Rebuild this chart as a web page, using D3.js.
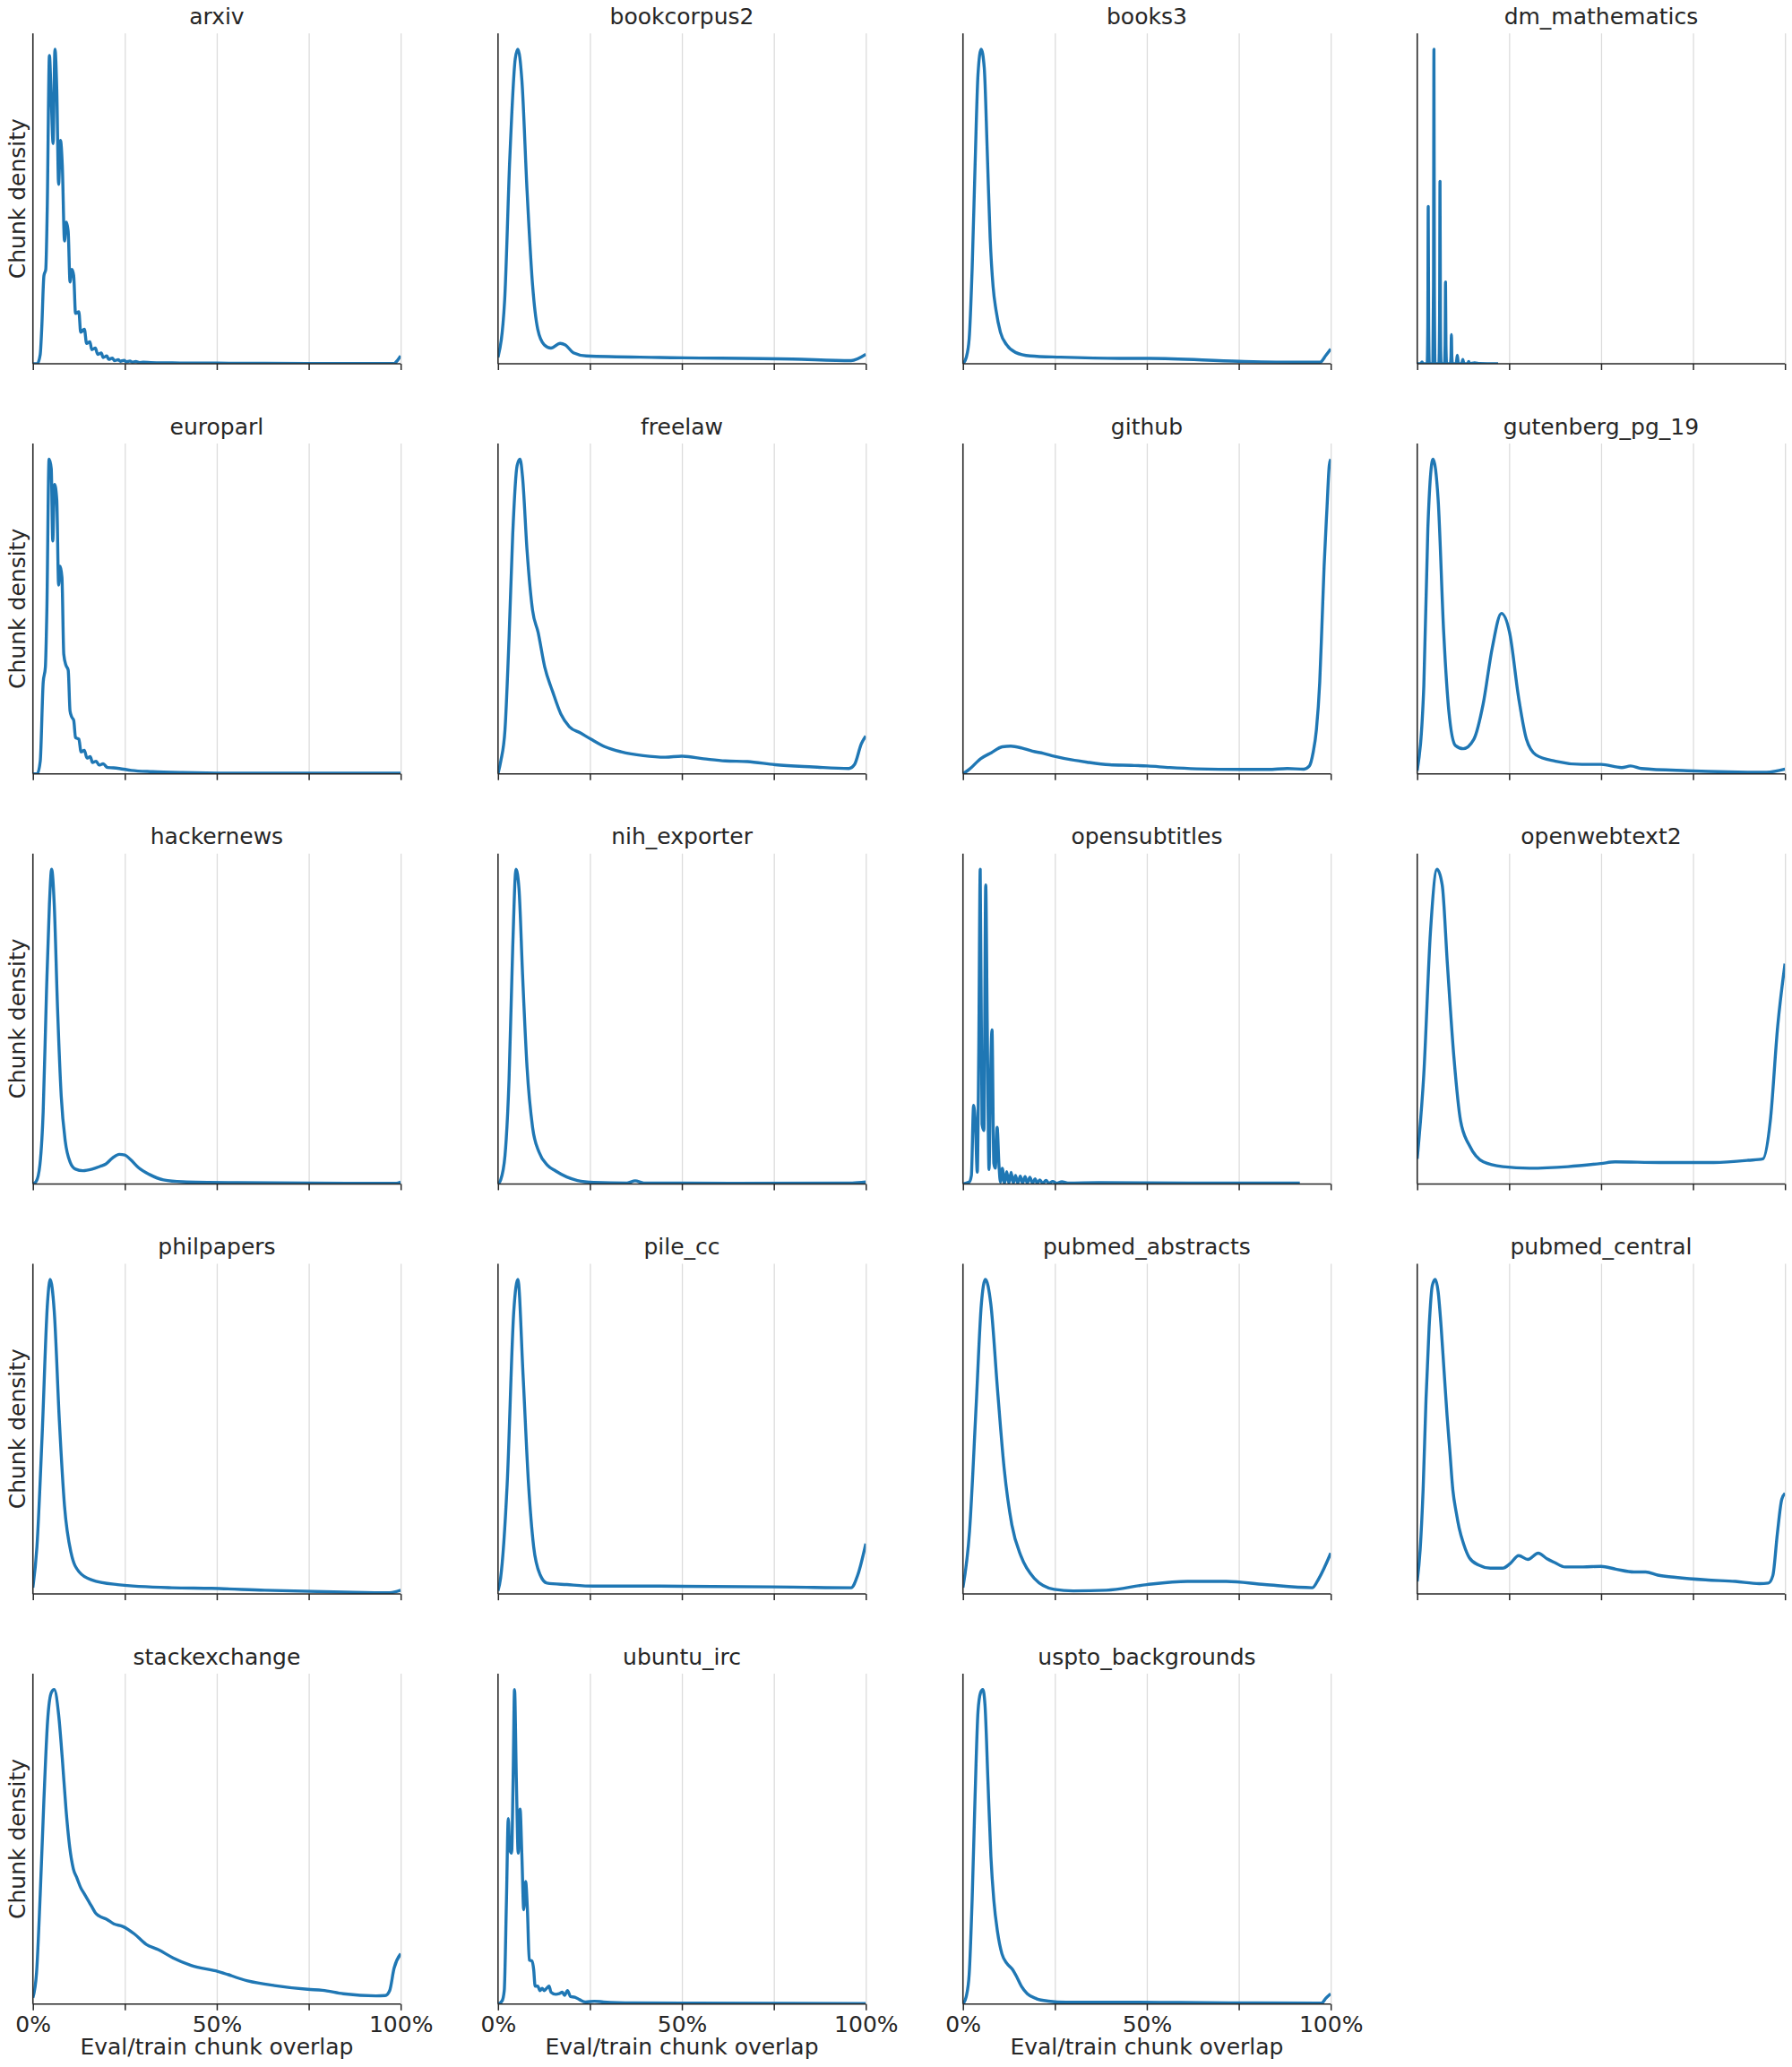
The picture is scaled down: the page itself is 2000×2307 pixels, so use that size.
<!DOCTYPE html>
<html>
<head>
<meta charset="utf-8">
<script src="https://cdn.jsdelivr.net/npm/d3@7"></script>
<style>
  html, body { margin: 0; padding: 0; background: #ffffff; }
  svg { display: block; }
  text { font-family: "DejaVu Sans", sans-serif; fill: #262626; }
</style>
</head>
<body>
<svg id="chart" width="2000" height="2307"></svg>
<script>
// ---------------- data (x = overlap %, y = relative chunk density) ----------------
const datasetNames = ["arxiv","bookcorpus2","books3","dm_mathematics","europarl","freelaw","github",
  "gutenberg_pg_19","hackernews","nih_exporter","opensubtitles","openwebtext2","philpapers","pile_cc",
  "pubmed_abstracts","pubmed_central","stackexchange","ubuntu_irc","uspto_backgrounds"];

const tickValues = [0, 25, 50, 75, 100];
const tickLabels = ["0%", "", "50%", "", "100%"];
const xLabel = "Eval/train chunk overlap";
const yLabel = "Chunk density";

const arxiv = [[0,0],[1.2,0],[2.0,0.03],[2.4,0.11],[3.0,0.28],[3.5,0.30],[3.9,0.49],[4.5,0.98],[5.0,0.84],[5.5,0.70],
  [6.0,1.0],[6.5,0.87],[7.0,0.57],[7.5,0.71],[8.0,0.63],[8.6,0.39],[9.1,0.45],[9.6,0.42],[10.1,0.26],[10.6,0.30],
  [11.1,0.28],[11.6,0.16],[12.5,0.165],[13.0,0.10],[14.0,0.11],[14.6,0.065],[15.5,0.07],[16.0,0.045],[17.0,0.05],
  [17.6,0.03],[18.6,0.034],[19.1,0.02],[20.1,0.025],[20.6,0.014],[21.6,0.018],[22.2,0.01],[23.2,0.013],[23.8,0.008],
  [24.8,0.011],[25.4,0.006],[26.4,0.009],[27,0.005],[28,0.007],[29,0.004],[30,0.005],[32,0.004],[35,0.003],
  [40,0.0025],[50,0.002],[60,0.0015],[75,0.001],[90,0.001],[98.2,0.001],[99.2,0.012],[100,0.025]];

const bookcorpus2 = [[0,0.02],[1.8,0.2],[3.2,0.65],[4.7,0.97],[5.4,1.0],[6.5,0.9],[7.9,0.55],[9.4,0.25],[10.8,0.11],
  [12.6,0.06],[14.4,0.05],[16.9,0.065],[18.3,0.06],[20.5,0.035],[24,0.025],[44,0.02],[80,0.015],[96,0.01],[100,0.03]];

const books3 = [[0,0],[0.9,0.02],[1.7,0.08],[2.5,0.30],[3.3,0.63],[4.1,0.92],[4.95,1.0],[5.8,0.94],[6.6,0.68],
  [7.4,0.40],[8.2,0.245],[9.0,0.17],[10.2,0.10],[11.9,0.06],[14.3,0.036],[18.3,0.025],[26.5,0.021],[42.7,0.017],
  [50.8,0.017],[75,0.008],[91.4,0.005],[97.1,0.005],[98.7,0.027],[100,0.047]];

const dm_mathematics = [[0,0],[1.0,0],[1.3,0.006],[1.6,0],[2.7,0],[2.88,0.12],[3.0,0.50],[3.12,0.12],[3.3,0],
  [4.25,0],[4.43,0.25],[4.55,1.0],[4.67,0.25],[4.85,0],[5.9,0],[6.08,0.14],[6.2,0.58],[6.32,0.14],[6.5,0],
  [7.4,0],[7.58,0.06],[7.7,0.26],[7.82,0.06],[8.0,0],[9.0,0],[9.18,0.023],[9.3,0.093],[9.42,0.023],[9.6,0],
  [10.6,0],[10.9,0.027],[11.2,0],[12.1,0],[12.4,0.014],[12.7,0],[13.7,0],[14.0,0.007],[14.3,0],[15.6,0.003],
  [17,0.001],[22,0]];

const europarl = [[0,0],[1.2,0],[2.0,0.04],[2.8,0.29],[3.4,0.34],[3.8,0.52],[4.4,1.0],[5.0,0.97],[5.4,0.74],
  [5.9,0.92],[6.5,0.87],[7.0,0.60],[7.4,0.66],[7.9,0.625],[8.4,0.38],[9.0,0.345],[9.6,0.33],[10.1,0.20],[10.6,0.18],
  [11.1,0.17],[11.6,0.115],[12.5,0.11],[13.1,0.07],[14.0,0.075],[14.7,0.05],[15.6,0.055],[16.2,0.036],[17.2,0.04],
  [18.0,0.028],[19.1,0.032],[20.3,0.02],[21.9,0.019],[23.5,0.017],[26.8,0.011],[32.5,0.007],[40.6,0.004],
  [52.8,0.002],[100,0.002]];

const freelaw = [[0,0],[0.75,0.04],[1.9,0.14],[3.0,0.43],[4.0,0.76],[5.2,0.98],[6.0,1.0],[6.7,0.94],[7.9,0.71],
  [9.4,0.52],[10.9,0.45],[12.7,0.34],[14.9,0.26],[17.1,0.19],[19.4,0.15],[22.4,0.13],[25.3,0.11],[29.1,0.086],
  [33.5,0.07],[39.5,0.058],[45.5,0.053],[49.9,0.056],[55.9,0.048],[61.8,0.041],[67.8,0.039],[75.3,0.029],
  [85.7,0.022],[95.4,0.017],[96.9,0.029],[98.8,0.096],[100,0.12]];

const github = [[0,0],[1.8,0.015],[4.8,0.048],[7.7,0.067],[10.7,0.086],[13.0,0.088],[16.0,0.082],[18.9,0.072],
  [21.9,0.065],[24.9,0.056],[29.4,0.045],[33.8,0.037],[39.8,0.029],[45.8,0.027],[50.2,0.025],[56.2,0.020],
  [63.6,0.016],[75.6,0.014],[83.0,0.014],[88.2,0.017],[92.7,0.015],[94.2,0.025],[95.2,0.067],[96.1,0.14],
  [97.0,0.29],[97.6,0.47],[98.2,0.66],[99.0,0.85],[99.6,0.98],[100,1.0]];

const gutenberg_pg_19 = [[0,0.01],[1.8,0.28],[2.9,0.78],[4.3,1.0],[5.7,0.87],[7.2,0.45],[8.6,0.2],[10.4,0.09],
  [12.5,0.08],[15.4,0.11],[17.9,0.22],[20.4,0.40],[22.9,0.51],[25.1,0.45],[27.6,0.24],[29.7,0.11],[32.3,0.06],
  [37.6,0.04],[44.8,0.03],[50,0.03],[55.6,0.02],[58,0.025],[61,0.017],[73.5,0.01],[95,0.005],[100,0.015]];

const hackernews = [[0,0],[0.9,0.008],[1.9,0.06],[2.8,0.23],[3.7,0.61],[4.5,0.89],[5.1,1.0],[5.8,0.89],[6.7,0.56],
  [7.7,0.28],[8.8,0.136],[10.1,0.07],[11.6,0.047],[13.6,0.042],[16.1,0.047],[18.3,0.056],[19.8,0.063],[21.6,0.082],
  [23.5,0.094],[25.0,0.092],[26.5,0.078],[28.8,0.051],[31.7,0.030],[35.5,0.013],[40.7,0.007],[55.6,0.004],
  [85.4,0.002],[98.8,0.002],[100,0.006]];

const nih_exporter = [[0,0],[0.7,0.012],[1.9,0.09],[3.0,0.33],[4.0,0.75],[4.9,1.0],[5.7,0.94],[6.7,0.66],[7.9,0.37],
  [9.4,0.18],[11.2,0.10],[13.4,0.06],[15.7,0.041],[18.7,0.022],[21.6,0.011],[26.1,0.005],[35.1,0.003],[37.3,0.01],
  [39.6,0.003],[63.4,0.002],[96.3,0.003],[100,0.006]];

const opensubtitles = [[0,0],[1.7,0.006],[2.3,0.027],[2.9,0.25],[3.4,0.19],[3.9,0.037],[4.3,0.42],[4.7,1.0],
  [5.2,0.19],[5.7,0.17],[6.2,0.95],[6.6,0.52],[7.1,0.046],[7.5,0.33],[7.9,0.49],[8.4,0.065],[8.8,0.05],[9.3,0.18],
  [9.8,0.06],[10.2,0.006],[10.7,0.05],[11.3,0.002],[11.9,0.039],[12.5,0.002],[13.1,0.037],[13.7,0.002],[14.3,0.027],
  [14.9,0.002],[15.6,0.025],[16.2,0.002],[16.9,0.023],[17.5,0.002],[18.2,0.021],[18.9,0.002],[19.6,0.016],
  [20.2,0.002],[20.9,0.013],[21.7,0.002],[22.6,0.011],[23.4,0.002],[24.4,0.008],[25.5,0.002],[26.9,0.007],
  [28.5,0.003],[37,0.004],[61.4,0.003],[91.6,0.003]];

const openwebtext2 = [[0,0.08],[1.8,0.35],[3.6,0.8],[5.4,1.0],[6.8,0.95],[8.2,0.7],[10,0.4],[11.8,0.2],[14.3,0.12],
  [18,0.07],[23.3,0.055],[30.5,0.05],[41,0.055],[50,0.065],[53.8,0.07],[66,0.068],[80.6,0.068],[90,0.075],
  [94,0.08],[96,0.2],[98,0.5],[100,0.7]];

const philpapers = [[0,0.02],[1.1,0.15],[2.5,0.5],[4,0.93],[4.7,1.0],[5.8,0.9],[7.2,0.55],[8.6,0.28],[10.4,0.13],
  [12.6,0.07],[16,0.045],[23,0.03],[37.8,0.02],[48.6,0.018],[63,0.012],[84.5,0.006],[97,0.004],[100,0.012]];

const pile_cc = [[0,0.01],[0.7,0.05],[2.5,0.35],[4.3,0.9],[5.4,1.0],[6.8,0.7],[8.3,0.35],[9.7,0.15],[11.5,0.06],
  [13.3,0.035],[18.7,0.03],[26,0.025],[44,0.025],[80,0.022],[96,0.02],[97.8,0.06],[100,0.16]];

const pubmed_abstracts = [[0,0.02],[1.8,0.2],[3.6,0.6],[5,0.92],[6.1,1.0],[7.6,0.92],[9.4,0.65],[11.2,0.4],
  [13.3,0.22],[15.8,0.12],[19.4,0.05],[24.8,0.015],[30,0.01],[39,0.012],[50,0.03],[61,0.04],[71.6,0.04],[82,0.03],
  [95,0.02],[96.8,0.05],[100,0.13]];

const pubmed_central = [[0,0.04],[0.8,0.14],[1.6,0.33],[2.4,0.62],[3.25,0.85],[4.1,0.98],[4.9,1.0],[5.7,0.96],
  [6.5,0.85],[7.3,0.71],[8.1,0.57],[8.9,0.45],[9.7,0.33],[10.6,0.26],[11.4,0.21],[12.6,0.16],[14.2,0.115],
  [16.7,0.092],[19.9,0.082],[23.2,0.082],[25.2,0.096],[27.6,0.122],[30.1,0.11],[32.9,0.13],[35.3,0.112],
  [37.4,0.10],[40.2,0.086],[45.1,0.086],[50.0,0.088],[54.0,0.079],[58.9,0.07],[62.1,0.07],[65.4,0.06],
  [70.3,0.053],[78.4,0.045],[86.5,0.04],[93.0,0.033],[95.5,0.035],[96.7,0.059],[97.9,0.19],[99.1,0.30],[100,0.32]];

const stackexchange = [[0,0.02],[1,0.1],[2,0.35],[3,0.65],[4,0.9],[5,0.99],[5.8,1.0],[7,0.92],[8,0.78],[9,0.62],
  [10,0.5],[11,0.43],[12,0.4],[13,0.37],[14,0.35],[15,0.33],[16,0.31],[17,0.29],[18,0.28],[20,0.27],[22,0.255],
  [24.4,0.247],[27.6,0.223],[30.8,0.19],[34.1,0.173],[38.1,0.147],[43.0,0.123],[50.3,0.104],[58.4,0.074],
  [65.7,0.059],[74.7,0.047],[78.7,0.044],[84.4,0.033],[93.3,0.026],[95.8,0.027],[97.0,0.043],[98.2,0.114],
  [100,0.16]];

const ubuntu_irc = [[0,0],[1.1,0.01],[1.7,0.043],[2.3,0.33],[2.8,0.59],[3.2,0.49],[3.7,0.48],[4.1,0.71],[4.5,1.0],
  [5.0,0.71],[5.5,0.48],[6.0,0.62],[6.5,0.47],[7.0,0.30],[7.5,0.39],[8.0,0.30],[8.5,0.14],[9.2,0.137],[9.7,0.11],
  [10.1,0.057],[10.8,0.057],[11.4,0.043],[12.0,0.05],[12.6,0.043],[13.2,0.05],[13.9,0.057],[14.4,0.038],
  [15.7,0.031],[16.6,0.033],[17.5,0.038],[18.1,0.028],[18.9,0.043],[19.7,0.024],[20.9,0.022],[22.2,0.014],
  [23.8,0.007],[26.2,0.009],[28.7,0.007],[36.8,0.004],[53,0.003],[100,0.002]];

const uspto_backgrounds = [[0,0],[0.9,0.024],[1.7,0.095],[2.5,0.33],[3.3,0.66],[4.1,0.93],[4.8,0.99],[5.4,1.0],
  [6.0,0.95],[6.8,0.71],[7.6,0.47],[8.4,0.33],[9.4,0.23],[10.6,0.16],[11.9,0.13],[13.5,0.11],[14.7,0.085],
  [15.9,0.057],[17.5,0.033],[20,0.017],[23.2,0.0095],[28.1,0.006],[42.7,0.006],[58.9,0.005],[75.2,0.004],
  [97.5,0.003],[98.7,0.019],[100,0.033]];

const seriesList = [arxiv, bookcorpus2, books3, dm_mathematics, europarl, freelaw, github, gutenberg_pg_19,
  hackernews, nih_exporter, opensubtitles, openwebtext2, philpapers, pile_cc, pubmed_abstracts, pubmed_central,
  stackexchange, ubuntu_irc, uspto_backgrounds];

// ---------------- layout ----------------
const colLeft = [36.7, 555.8, 1074.7, 1581.7];
const plotW = 410.5;
const rowTop0 = 37.3, rowStep = 457.7, plotH = 368.7;
const nCols = 4, nRows = 5;
const lineColor = "#1f77b4";
const gridColor = "#dcdcdc";
const axisColor = "#262626";

const svg = d3.select("#chart");
svg.append("rect").attr("width", 2000).attr("height", 2307).attr("fill", "#fff");

datasetNames.forEach((name, i) => {
  const col = i % nCols, row = Math.floor(i / nCols);
  const left = colLeft[col], top = rowTop0 + row * rowStep;
  const bottom = top + plotH;
  const data = seriesList[i];
  const isLeft = col === 0;
  const isBottom = row === nRows - 1;

  const x = d3.scaleLinear().domain([0, 100]).range([left, left + plotW]);
  const yMax = d3.max(data, d => d[1]);
  const y = d3.scaleLinear().domain([0, yMax * 1.05]).range([bottom, top]);

  const g = svg.append("g");

  // grid
  const grid = g.append("g").attr("transform", `translate(0,${bottom})`)
    .call(d3.axisBottom(x).tickValues(tickValues).tickSize(-plotH).tickSizeOuter(0).tickFormat(""));
  grid.select(".domain").remove();
  grid.selectAll("line").attr("stroke", gridColor).attr("stroke-width", 1.3);

  // clip
  const clipId = "clip" + i;
  g.append("clipPath").attr("id", clipId).append("rect")
    .attr("x", left).attr("y", top - 2).attr("width", plotW).attr("height", plotH + 2);

  // line
  const line = d3.line().x(d => x(d[0])).y(d => y(d[1])).curve(d3.curveMonotoneX);
  g.append("path").datum(data)
    .attr("d", line)
    .attr("fill", "none")
    .attr("stroke", lineColor)
    .attr("stroke-width", 3.4)
    .attr("stroke-linejoin", "round")
    .attr("clip-path", `url(#${clipId})`);

  // x axis with ticks
  const ax = g.append("g").attr("transform", `translate(0,${bottom})`)
    .call(d3.axisBottom(x).tickValues(tickValues).tickSize(7).tickSizeOuter(0).tickPadding(6)
      .tickFormat((d, k) => isBottom ? tickLabels[k] : ""));
  ax.select(".domain").remove();
  ax.selectAll("line").attr("stroke", axisColor).attr("stroke-width", 1.5);
  ax.selectAll("text").attr("font-size", 25).attr("fill", "#262626")
    .attr("font-family", "DejaVu Sans").attr("dy", "0.71em");

  // spines
  g.append("line").attr("x1", left).attr("x2", left + plotW).attr("y1", bottom).attr("y2", bottom)
    .attr("stroke", axisColor).attr("stroke-width", 1.5);
  g.append("line").attr("x1", left).attr("x2", left).attr("y1", top).attr("y2", bottom)
    .attr("stroke", axisColor).attr("stroke-width", 1.5);

  // title
  g.append("text").attr("x", left + plotW / 2).attr("y", top - 10.5)
    .attr("text-anchor", "middle").attr("font-size", 25).text(name);

  if (isLeft) {
    g.append("text")
      .attr("transform", `translate(${27.5},${top + plotH / 2}) rotate(-90)`)
      .attr("text-anchor", "middle").attr("font-size", 25).text(yLabel);
  }
  if (isBottom) {
    g.append("text").attr("x", left + plotW / 2).attr("y", bottom + 56)
      .attr("text-anchor", "middle").attr("font-size", 25).text(xLabel);
  }
});
</script>
</body>
</html>
